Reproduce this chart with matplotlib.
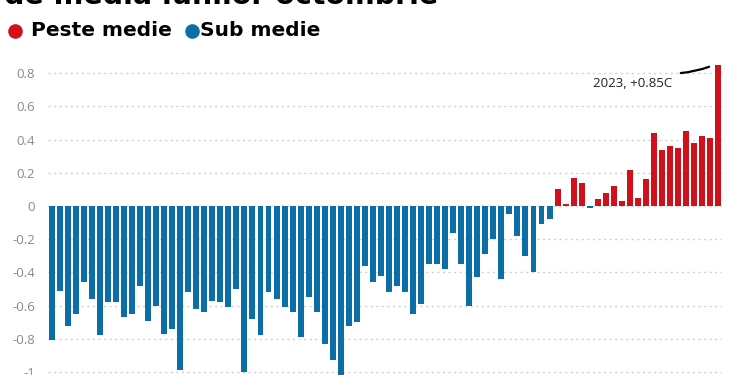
import matplotlib
matplotlib.use("Agg")
import matplotlib.pyplot as plt
from matplotlib.lines import Line2D

years = list(range(1940, 2024))
anomalies = [
    -0.81, -0.51, -0.72, -0.65, -0.46, -0.56, -0.78, -0.58, -0.58, -0.67,
    -0.65, -0.48, -0.69, -0.60, -0.77, -0.74, -0.99, -0.52, -0.62, -0.64,
    -0.57, -0.58, -0.61, -0.50, -1.00, -0.68, -0.78, -0.52, -0.56, -0.61,
    -0.64, -0.79, -0.55, -0.64, -0.83, -0.93, -1.02, -0.72, -0.70, -0.36,
    -0.46, -0.42, -0.52, -0.48, -0.52, -0.65, -0.59, -0.35, -0.35, -0.38,
    -0.16, -0.35, -0.60, -0.43, -0.29, -0.20, -0.44, -0.05, -0.18, -0.30,
    -0.40, -0.11, -0.08, 0.10, 0.01, 0.17, 0.14, -0.01, 0.04, 0.08,
    0.12, 0.03, 0.22, 0.05, 0.16, 0.44, 0.34, 0.36, 0.35, 0.45,
    0.38, 0.42, 0.41, 0.85,
]
yticks = [-1, -0.8, -0.6, -0.4, -0.2, 0, 0.2, 0.4, 0.6, 0.8]
ytick_labels = ["-1", "-0.8", "-0.6", "-0.4", "-0.2", "0", "0.2", "0.4", "0.6", "0.8"]
legend_labels = ["Peste medie", "Sub medie"]
title_line = "de media lunilor octombrie"
note_text = "2023, +0.85C"

RED = "#d0101a"
BLUE = "#0b6ea4"

fig = plt.figure(figsize=(7.5, 3.75), dpi=100)
ax = fig.add_axes([0.0636, -0.0363, 0.8993, 0.8853])

idx = list(range(len(years)))
colors = [RED if v > 0 else BLUE for v in anomalies]
ax.bar(idx, anomalies, width=0.74, color=colors, zorder=3, linewidth=0)

ax.set_xlim(-0.5, len(years) - 0.5)
ax.set_ylim(-1.1, 0.9)
ax.set_yticks(yticks)
ax.set_yticklabels(ytick_labels)
ax.set_xticks([])
for s in ax.spines.values():
    s.set_visible(False)
ax.tick_params(axis="y", length=0, pad=9, labelsize=9.5, labelcolor="#8a8a8a")
for lab in ax.get_yticklabels():
    lab.set_fontfamily("Open Sans")
ax.yaxis.grid(True, linestyle=(0, (1.5, 2.5)), color="#cfcfcf", linewidth=1, zorder=0)

# annotation
ax.text(72.4, 0.74, note_text, ha="center", va="center", fontsize=9.5,
        family="Open Sans", color="#222222", zorder=5)
ax.annotate("", xy=(82.2, 0.845), xytext=(78.0, 0.80),
            arrowprops=dict(arrowstyle="-", connectionstyle="arc3,rad=0.08",
                            lw=1.6, color="black"), zorder=5)

# title (cut off at top)
fig.text(0.005, 1 - 4 / 375, title_line, ha="left", va="baseline",
         fontsize=20.5, fontweight="bold", family="DejaVu Sans", color="black")

# legend
fig.add_artist(Line2D([15 / 750], [1 - 31 / 375], marker="o", markersize=9.5,
                      color=RED, linestyle="none", transform=fig.transFigure))
fig.text(31 / 750, 1 - 31 / 375, legend_labels[0], ha="left", va="center",
         fontsize=14.5, fontweight="bold", family="DejaVu Sans", color="black")
fig.add_artist(Line2D([192 / 750], [1 - 31 / 375], marker="o", markersize=9.5,
                      color=BLUE, linestyle="none", transform=fig.transFigure))
fig.text(200 / 750, 1 - 31 / 375, legend_labels[1], ha="left", va="center",
         fontsize=14.5, fontweight="bold", family="DejaVu Sans", color="black")

fig.savefig("out.png", dpi=100)
